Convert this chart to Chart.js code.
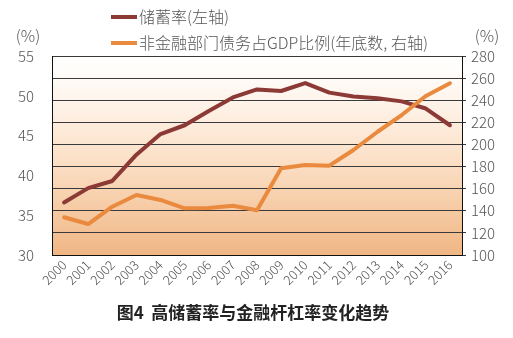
<!DOCTYPE html>
<html>
<head>
<meta charset="utf-8">
<script src="https://cdn.jsdelivr.net/npm/chart.js@4.4.0/dist/chart.umd.min.js"></script>
<style>
    html, body { margin: 0; padding: 0; background: #ffffff; }
    #wrap { width: 513px; height: 338px; position: relative; }
</style>
</head>
<body>
<div id="wrap"><canvas id="savingsChart"></canvas></div>
<script>
const years = ['2000', '2001', '2002', '2003', '2004', '2005', '2006', '2007', '2008',
    '2009', '2010', '2011', '2012', '2013', '2014', '2015', '2016'];
// 储蓄率 (%), left axis
const savingsRate = [36.6, 38.4, 39.3, 42.6, 45.2, 46.3, 48.1, 49.8, 50.8,
    50.6, 51.6, 50.4, 49.9, 49.7, 49.3, 48.4, 46.3];
// 非金融部门债务占GDP比例 (%), right axis
const debtRatio = [134.1, 128.0, 143.7, 154.3, 149.8, 142.2, 142.5, 144.6, 140.5,
    178.4, 181.4, 180.8, 195.0, 211.5, 226.6, 243.8, 255.3];

const legendLabels = ['储蓄率(左轴)', '非金融部门债务占GDP比例(年底数, 右轴)'];
const chartTitle = '图4  高储蓄率与金融杆杠率变化趋势';

const FONT = "'Noto Sans CJK SC', 'Noto Sans', sans-serif";
const DARK = '#8c3a36';
const ORANGE = '#e98a3e';

// Peach gradient behind the plot, plus legend, units and caption
const decorPlugin = {
    id: 'decor',
    beforeDraw(chart) {
        const { ctx, chartArea: a } = chart;
        const g = ctx.createLinearGradient(0, a.top, 0, a.bottom);
        g.addColorStop(0, '#ffffff');
        g.addColorStop(0.12, '#fffbf7');
        g.addColorStop(0.55, '#fbdec3');
        g.addColorStop(1, '#f0b684');
        ctx.save();
        ctx.fillStyle = g;
        ctx.fillRect(a.left, a.top, a.right - a.left, a.bottom - a.top);
        ctx.restore();
    },
    afterDraw(chart) {
        const { ctx } = chart;
        ctx.save();
        // legend
        const rows = [[DARK, 17], [ORANGE, 43]];
        rows.forEach(([color, y], i) => {
            ctx.strokeStyle = color;
            ctx.lineWidth = 4;
            ctx.beginPath();
            ctx.moveTo(111, y);
            ctx.lineTo(137, y);
            ctx.stroke();
            ctx.fillStyle = '#555555';
            ctx.font = '300 16px ' + FONT;
            ctx.textAlign = 'left';
            ctx.textBaseline = 'middle';
            ctx.fillText(legendLabels[i], 139, y);
        });
        // axis units
        ctx.font = '300 16px ' + FONT;
        ctx.textAlign = 'center';
        ctx.fillText('(%)', 28, 36);
        ctx.fillText('(%)', 487, 36);
        // caption
        ctx.fillStyle = '#222222';
        ctx.font = 'bold 17px ' + FONT;
        ctx.fillText(chartTitle, 253, 313);
        ctx.restore();
    }
};

const ctx = document.getElementById('savingsChart').getContext('2d');
new Chart(ctx, {
    type: 'line',
    data: {
        labels: years,
        datasets: [
            {
                label: legendLabels[0],
                data: savingsRate,
                borderColor: DARK,
                borderWidth: 4,
                yAxisID: 'yLeft',
                order: 1
            },
            {
                label: legendLabels[1],
                data: debtRatio,
                borderColor: ORANGE,
                borderWidth: 4,
                yAxisID: 'yRight',
                order: 0
            }
        ]
    },
    options: {
        responsive: true,
        maintainAspectRatio: false,
        animation: false,
        layout: { padding: { top: 56, left: 0, right: 0, bottom: 0 } },
        elements: {
            point: { radius: 0 },
            line: { tension: 0, borderJoinStyle: 'round', borderCapStyle: 'round' }
        },
        plugins: {
            legend: { display: false },
            tooltip: { enabled: false }
        },
        scales: {
            x: {
                offset: true,
                grid: { display: false, drawTicks: false },
                border: { display: true, color: '#111111', width: 1 },
                ticks: {
                    autoSkip: false,
                    maxRotation: 45,
                    minRotation: 45,
                    padding: 2,
                    color: '#555555',
                    font: { family: FONT, size: 13, weight: 300 }
                },
                afterFit: (s) => { s.height = 83; }
            },
            yLeft: {
                position: 'left',
                min: 30,
                max: 55,
                grid: { display: false, drawTicks: false },
                border: { display: true, color: '#111111', width: 1 },
                ticks: {
                    stepSize: 5,
                    padding: 18,
                    color: '#555555',
                    font: { family: FONT, size: 15, weight: 300 }
                },
                afterFit: (s) => { s.width = 52; }
            },
            yRight: {
                position: 'right',
                min: 100,
                max: 280,
                grid: {
                    display: true,
                    drawOnChartArea: true,
                    drawTicks: true,
                    tickLength: 4,
                    color: '#3a3a3a',
                    lineWidth: 1
                },
                border: { display: true, color: '#111111', width: 1 },
                ticks: {
                    stepSize: 20,
                    padding: 5,
                    color: '#555555',
                    font: { family: FONT, size: 15, weight: 300 }
                },
                afterFit: (s) => { s.width = 51; }
            }
        }
    },
    plugins: [decorPlugin]
});
</script>
</body>
</html>
